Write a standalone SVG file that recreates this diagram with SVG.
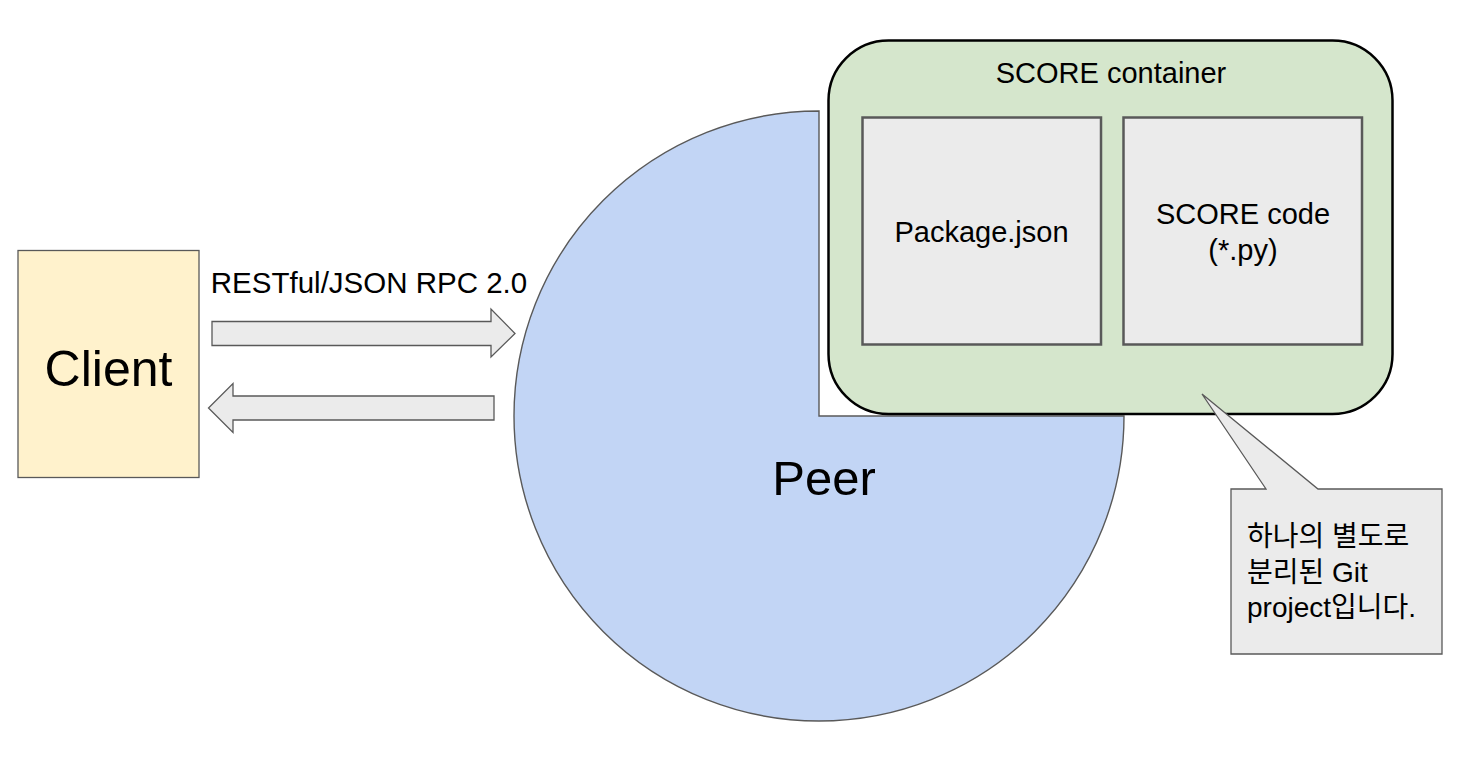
<svg xmlns="http://www.w3.org/2000/svg" width="1482" height="760" viewBox="0 0 1482 760">
<style>
  .t { font-family: "Liberation Sans", Arial, "Noto Sans CJK KR", sans-serif; fill: #000; }
  .gray { fill: #ebebeb; stroke: #595959; }
  .thin { stroke-width: 1.3; }
  .box { stroke-width: 2.5; }
</style>
<rect width="1482" height="760" fill="#ffffff"/>
<g id="peer">
  <path d="M819,416 L819,111 A305,305 0 1,0 1124,416 Z" fill="#c2d5f5" stroke="#595959" stroke-width="1.4"/>
  <text class="t" x="824" y="495" font-size="49" text-anchor="middle">Peer</text>
</g>
<g id="score-container">
  <rect x="828.5" y="40.5" width="564" height="373.5" rx="60" ry="60" fill="#d5e6cc" stroke="#000" stroke-width="2.5"/>
  <text class="t" x="1111" y="83" font-size="29" text-anchor="middle">SCORE container</text>
</g>
<g id="package-json">
  <rect class="gray box" x="862.5" y="117.5" width="238.5" height="227"/>
  <text class="t" x="981.5" y="242" font-size="29" text-anchor="middle">Package.json</text>
</g>
<g id="score-code">
  <rect class="gray box" x="1123.5" y="117.5" width="238.5" height="227"/>
  <text class="t" x="1243" y="224" font-size="29" text-anchor="middle">SCORE code</text>
  <text class="t" x="1243" y="260" font-size="29" text-anchor="middle">(*.py)</text>
</g>
<g id="client">
  <rect x="18" y="250.5" width="181" height="227" fill="#fff2cc" stroke="#595959" stroke-width="1.3"/>
  <text class="t" x="108.5" y="386" font-size="50" text-anchor="middle">Client</text>
</g>
<g id="connectors">
  <path class="gray thin" d="M212,321.5 H491 V309 L515,333.5 L491,357 V345.5 H212 Z"/>
  <path class="gray thin" d="M494,396 H233 V383.5 L208.5,408 L233,432.5 V420 H494 Z"/>
  <text class="t" x="369" y="293" font-size="29.5" text-anchor="middle">RESTful/JSON RPC 2.0</text>
</g>
<g id="callout">
  <path class="gray thin" d="M1231,489 H1266 L1202,394 L1318,489 H1442 V654 H1231 Z"/>
  <text class="t" font-size="28">
    <tspan x="1247" y="546">하나의 별도로</tspan>
    <tspan x="1247" y="582">분리된 Git</tspan>
    <tspan x="1247" y="617">project입니다.</tspan>
  </text>
</g>
</svg>
